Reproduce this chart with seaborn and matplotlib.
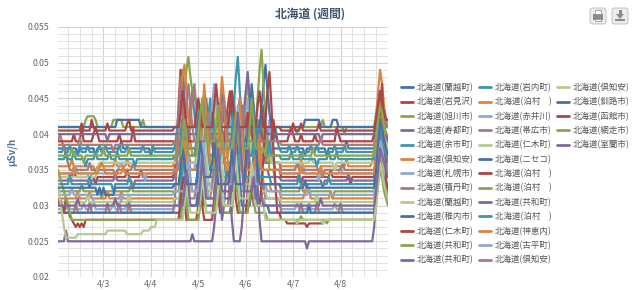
import numpy as np
import pandas as pd
import matplotlib
matplotlib.use("Agg")
import matplotlib.pyplot as plt
import matplotlib.dates as mdates
from matplotlib.lines import Line2D
from matplotlib.ticker import FixedLocator, MultipleLocator, FixedFormatter
from matplotlib.patches import FancyBboxPatch, Rectangle, Polygon
import seaborn as sns

# ---------------- data ----------------
title = "北海道 (週間)"
y_label = "μSv/h"
start_time = "2013-04-02 01:00"
n_points = 168
seg_lengths = [59, 54, 46, 9]          # hourly points per segment of each code string
x_tick_dates = ["2013-04-03", "2013-04-04", "2013-04-05", "2013-04-06", "2013-04-07", "2013-04-08"]
x_tick_labels = ["4/3", "4/4", "4/5", "4/6", "4/7", "4/8"]
y_ticks = [0.02, 0.025, 0.03, 0.035, 0.04, 0.045, 0.05, 0.055]
y_tick_labels = ["0.02", "0.025", "0.03", "0.035", "0.04", "0.045", "0.05", "0.055"]

names = [
    "北海道(蘭越町)", "北海道(岩見沢)", "北海道(旭川市)", "北海道(寿都町)", "北海道(余市町)",
    "北海道(倶知安)", "北海道(札幌市)", "北海道(積丹町)", "北海道(蘭越町)", "北海道(稚内市)",
    "北海道(仁木町)", "北海道(共和町)", "北海道(共和町)",
    "北海道(岩内町)", "北海道(泊村　)", "北海道(赤井川)", "北海道(帯広市)", "北海道(仁木町)",
    "北海道(ニセコ)", "北海道(泊村　)", "北海道(泊村　)", "北海道(共和町)", "北海道(泊村　)",
    "北海道(神恵内)", "北海道(古平町)", "北海道(倶知安)",
    "北海道(倶知安)", "北海道(釧路市)", "北海道(函館市)", "北海道(網走市)", "北海道(室蘭市)",
]
color_cycle = ["#4572A7", "#AA4643", "#89A54E", "#80699B", "#3D96AE",
               "#DB843D", "#92A8CD", "#A47D7C", "#B5CA92"]

# values in 1/1000 μSv/h, run-length coded ("v*n" = v repeated n hours), segments split by "|"
s00 = "38*10 37 38*8 37 38*12 39 38*14 37 38*11|38*3 40 42 40 38*6 39 41 43 41 39*4 40 42 40 38*8 40 43 45 42 39 38*8 41 44 40 38*7|38*12 37 38*10 37 38*9 39 38*12|38*2 40 43 44 42 41 40 39"
s01 = "34*8 35 34*10 33 34*15 35 34*6 35 34*16|35 38 44 49 46 42 39 37 36*4 35*5 38 41 39 36*6 37 40 44 46 43 40 38 36*5 35*4 37 39 41 38 36*5 35*3|34*10 33 34*14 35 34*9 33 34*10|34*2 37 41 44 42 40 39 38"
s02 = "41*14 42 42.5*4 42 41*8 42*5 41*10 42 41*15|41*4 43 46 49 50.8 48 46 45 44.5 44 43 41 40*3 42 44 42 40*5 41 43 41 40*6 42 45 47 44 41 40*4 42 40*3 41*6|41*8 40 41*12 42 41*10 40 41*13|41*2 43 45 46 44 43 42 42"
s03 = "33.5*6 34.5 33.5*9 32.5 33.5*12 34.5 33.5*8 32.5 33.5*20|34 37 42 46 49 45 40 37 35*4 36 38 36 34*6 37 41 44 41 37 35*5 36 39 42 39 36 34*5 38 41 38 35*4 34*6|33.5*9 34.5 33.5*11 32.5 33.5*12 34.5 33.5*11|33.5*2 36 40 43 41 39 38 37"
s04 = "37.5*3 38.5 37.5*2 38.5 37.5*4 38.5 37.5*3 38.5 37.5*5 38.5 37.5*2 38.5 37.5*6 38.5 37.5*3 38.5 37.5*7 38.5 37.5*4 38.5 37.5*10|38 40 43 41 39*3 41 44 46 43 40 38*4 40 42 45 42 39 38*5 40 43 41 39 38*4 41 44 42 39 38*3 40 42 40 38*6 39 41 39 38|37.5*4 38.5 37.5*3 38.5 37.5*6 38.5 37.5*2 38.5 37.5*8 38.5 37.5*4 38.5 37.5*13|37.5*2 40 42 45 43 42 41 41"
s05 = "35.5*7 36.5 35.5*11 34.5 35.5*9 36.5 35.5*5 36.5 35.5*23|36 38 41 45 48 49.7 46 42 39 37*3 39 42 40 37*5 38 41 43 40 37*4 39 42 45 42 39 37*6 40 43 40 37*4 38 40 38 36*5|35.5*10 36.5 35.5*8 34.5 35.5*13 36.5 35.5*12|36 38 42 46 49 47 44 42 41"
s06 = "34.5*9 35.5 34.5*6 33.5 34.5*14 35.5 36 35.5 34.5*10 33.5 34.5*14|35*3 37 39 37 35*5 37 40 38 36*3 38 41 44 47 44 40 37*4 39 42 40 37*5 40 43 45 41 38*4 40 37*3 39 42 39 36*4|34.5*11 35.5 34.5*7 33.5 34.5*10 35.5 34.5*15|34.5*2 37 40 42 41 39 38 38"
s07 = "39 40 39 38 37 36 35*10 36 35*12 34 35*8 36 35*20|35*3 37 39 38 36 38 42 45 47 44 40 38*3 40 37*4 39 41 38 36*6 38 41 43 40 37*5 39 42 39 36*5 38 36*6|35*8 36 35*12 34 35*9 36 35*14|35*2 37 39 41 40 38 37 37"
s08 = "34*20 35 36*38|36*2 38 41 44 41 38 36*5 38 40 38 36*3 39 42 44 42 39 37*4 39 41 39 37*6 40 43 40 37*5 39 37*4 36*5|36*15 37 36*11 35 36*18|36*3 38 41 42 40 39 38"
s09 = "41*30 42*12 41*17|41*3 43 45 43 41*6 42 44 42 41*8 43 46 44 42 41*6 42 44 42 41*8 44 47 49.7 46 43 41*5|41*12 42*8 41*6 42*3 41*17|41*2 42 44 45 44 43 42 42"
s10 = "39*8 40 39*3 41 39*5 40 41 40 39*10 40 39*6 41 39*20|39*4 41 43 41 39*6 40 42 40 39*10 42 44 46 43 41 39*6 41 43 40 39*10 42 40 39*2|39*4 40 41 40 39*3 40 39*6 40 39*10 41 40 39*16|39 40 42 44 46 44 42 41 41"
s11 = "32*12 33 32*9 31 32*14 33 32*21|32*3 35 38 36 33*6 35 38 36 33*5 36 39 37 34*6 36 40 38 35*8 37 41 45 49 51.8 47 42 38 35*3 33*3|32*10 33 32*15 31 32*19|32*2 34 37 40 39 37 36 35"
s12 = "40*25 39 40*33|40*4 42 44 41 40*8 42 45 42 40*6 41 43 41 40*8 43 46 48.7 45 42 40*4 41 43 41 40*7|40*20 39 40*25|40*2 42 44 45 43 42 41 41"
s13 = "36.5*4 37.5 36.5*3 37.5 36.5*5 35.5 36.5*4 37.5 36.5*6 37.5 36.5*3 37.5 36.5*8 35.5 36.5*19|37*3 39 42 40 37*5 39 41 39 37*4 40 43 41 38*8 40 44 48 50.8 46 42 39 37*4 39 41 38 37*5 39 37*5|36.5*5 37.5 36.5*4 37.5 36.5*7 35.5 36.5*5 37.5 36.5*3 37.5 36.5*17|36.5*2 39 42 44 43 41 40 39"
s14 = "31*10 32 31*5 32 31*8 32 31*6 32 31*26|31*4 33 36 34 32*6 34 37 35 32*5 35 39 44 48 45 40 36 33*5 35 38 35 33*6 36 39 36 33*4 32*5|31*12 32 33 32 31*10 32 31*20|31*2 34 39 44 42 39 37 36"
s15 = "29.5*5 30.5 29.5*7 30.5 29.5*4 31 29.5*9 30.5 29.5*6 30.5 29.5*23|30*3 33 36 33 30*6 33 37 41 38 34 31*4 34 38 35 32*5 35 39 42 38 34 31*5 34 37 33 31*4 30*8|29.5*8 30.5 29.5*5 30.5 29.5*12 30.5 29.5*18|29.5*2 32 36 39 38 36 35 34"
s16 = "29*9 30.5 29*6 30.5 29*8 30.5 29*5 30.5 29*4 30.5 29*22|30 35 41 48 44 38 33 31*4 33 36 33 31*5 33 35 32 30*6 34 38 35 32*5 34 37 34 31*6 33 31*8|29*10 30.5 29*7 30.5 29*11 30.5 29*15|29*2 31 34 37 36 34 33 32"
s17 = "30.5*15 31.5 30.5*20 31.5 30.5*22|31*5 34 37 35 32*5 34 38 41 38 34 32*4 35 39 36 33*6 36 40 43 39 35 32*5 34 37 34 32*3 31*7|30.5*18 31.5 30.5*27|30.5*2 33 36 38 37 35 34 34"
s18 = "30*3 29*56|29*4 31 34 32 30*5 32 35 33 30*6 33 36 34 31*5 33 37 40 37 33 30*5 32 35 32 30*6 29*6|29*14 30 29*31|29*2 31 34 36 35 33 32 31"
s19 = "30 31 30 29 31 30 28.5 28 27.5 27 27.5 27 27.5 27 28*45|28*3 31 34 31 28*6 30 33 30 28*5 31 35 32 29*6 31 34 31 29*5 32 36 34 30*4 33 37 42 46 48.7 44 38 33 29*2|28*3 27.5*10 27 27.5*8 28*24|28*2 32 38 44 47 40 34 31"
s20 = "35 34 33 32 31 30 29 28*52|28*4 30 33 31 28*6 30 34 32 29*5 32 36 33 29*6 32 35 32 29*5 31 34 31 29*6 28*7|28*10 28.5 28*12 27.5 28*22|28*2 30 33 35 34 32 31 30"
s21 = "25*4 26.5 25*54|25*9 26 25*10 27 30 33 31 28 30 34 35 32 28 25*4 27 31 35 39 36 32 35 38 33 28 25*10|25*13 24 25*32|25 27 31 36 40 42 41 40 39"
s22 = "33*6 34 33*9 34 33*11 32 33*7 34 33*22|33*4 35 37 35 33*5 35 38 42 46 42 38 35*5 37 40 37 34*6 36 39 36 34*5 37 40 37 34*6 33*5|33*9 34 33*14 34 33*21|33*2 35 38 41 40 38 37 36"
s23 = "34.5*8 35.5 34.5*12 35.5 36 35.5 34.5*9 35.5 34.5*25|35*4 37 39 37 35*6 38 42 47 43 39 36*5 38 40 37 35*5 38 42 45 41 37 35*5 37 39 36 35*10|34.5*10 35.5 34.5*9 35.5 34.5*25|34.5*2 37 41 45 43 40 38 37"
s24 = "31.5*7 32.5 31.5*13 32.5 31.5*10 30.5 31.5*26|32*6 34 37 34 32*4 35 39 36 33*5 35 38 35 33*6 36 40 44 40 36 33*5 35 33*6 32*7|31.5*14 32.5 31.5*31|31.5*2 34 37 39 38 36 35 35"
s25 = "38.5*11 39.5 38.5*16 37.5 38.5*30|39*5 41 44 47 44 41 39*6 41 43 40 39*5 42 45 42 39*7 41 44 41 39*6 40 39*10|38.5*20 39.5 38.5*25|38.5*2 40 42 44 43 42 41 41"
s26 = "33 31 29 27 25.5*6 26*15 26.5*10 26*8 26.5*4 27*3 28*9|28*5 30 33 31 29*5 31 34 32 29*6 32 35 33 30*5 33 37 34 31*5 33 36 33 30*5 28*8|28*8 27.5 28*12 27.5 28*24|28*2 30 33 36 35 33 32 31"
s27 = "32.5*20 31.5 32.5 31.5 32.5 31.5*5 32.5*30|33*3 35 38 36 33*6 36 39 37 34*4 36 39 36 33*6 35 38 35 33*5 36 40 43 47 44 39 35 33*11|32.5*12 33.5 32.5*33|32.5*2 35 39 42 41 39 38 37"
s28 = "40.5*12 41.5 40.5*4 42 41 40.5*6 41.5 40.5*9 41.5 42 40.5*22|41*3 43 46 44 41*5 43 45 43 41*6 44 47 44 41*5 43 46 43 41*6 43 41*4 44 46 43 41*9|40.5*6 41.5 40.5*3 41.5 40.5*8 41.5 40.5*26|40.5*2 42 44 46 44 43 42 42"
s29 = "37*7 38 37*5 36 37*9 38 37*12 38 37*22|37*4 39 42 40 37*5 40 43 45 42 39*5 41 44 41 38*6 40 43 40 38*5 41 45 42 38*5 37*8|37*16 38 37*29|37*2 39 42 44 43 41 40 40"
s30 = "30*10 31 30*18 31 30*29|30*5 32 35 33 30*5 33 37 34 31*5 34 38 35 32*6 35 39 43 40 36 32*5 34 31*4 30*9|30*20 31 30*25|30*2 32 35 38 37 36 35 34"

series_codes = [s00, s01, s02, s03, s04, s05, s06, s07, s08, s09, s10, s11, s12, s13, s14, s15,
                s16, s17, s18, s19, s20, s21, s22, s23, s24, s25, s26, s27, s28, s29, s30]


def expand(code):
    out = []
    for seg, n in zip(code.split("|"), seg_lengths):
        vals = []
        for tok in seg.split():
            if "*" in tok:
                v, k = tok.split("*")
                vals += [float(v)] * int(k)
            else:
                vals.append(float(tok))
        vals = (vals + [vals[-1]] * n)[:n]
        out += vals
    return np.array(out) / 1000.0


times = pd.date_range(start_time, periods=n_points, freq="h")
frames = []
for i, code in enumerate(series_codes):
    frames.append(pd.DataFrame({"time": times, "value": expand(code), "sid": i}))
df = pd.concat(frames, ignore_index=True)

# ---------------- figure ----------------
sns.set_theme(style="white")
plt.rcParams["font.family"] = ["Noto Sans CJK JP", "DejaVu Sans"]

W, H = 640, 290
fig = plt.figure(figsize=(W / 100, H / 100), dpi=100)
fig.patch.set_facecolor("white")
ax = fig.add_axes([58 / W, 1 - 277 / H, 330 / W, 250 / H])

palette = {i: color_cycle[i % len(color_cycle)] for i in range(len(names))}
sns.lineplot(data=df, x="time", y="value", hue="sid", palette=palette,
             hue_order=list(range(len(names))), estimator=None, errorbar=None,
             sort=False, legend=False, linewidth=1.6, ax=ax)
for ln in ax.lines:
    ln.set_solid_joinstyle("round")
    ln.set_solid_capstyle("round")

ax.set_xlim(times[0], times[-1])
ax.set_ylim(y_ticks[0], y_ticks[-1])

ax.yaxis.set_major_locator(FixedLocator(y_ticks))
ax.yaxis.set_major_formatter(FixedFormatter(y_tick_labels))
ax.yaxis.set_minor_locator(MultipleLocator(0.001))
ax.set_xticks(pd.to_datetime(x_tick_dates))
ax.set_xticklabels(x_tick_labels)
ax.xaxis.set_minor_locator(mdates.HourLocator(byhour=[0, 6, 12, 18]))

ax.grid(which="major", axis="both", color="#d4d4d4", linewidth=0.8)
ax.grid(which="minor", axis="both", color="#e2e2e2", linewidth=0.7)
ax.set_axisbelow(True)
for sp in ax.spines.values():
    sp.set_visible(False)
ax.tick_params(axis="both", which="both", length=0, labelsize=6.3, colors="#666666")
ax.tick_params(axis="y", pad=6)
ax.tick_params(axis="x", pad=1.5)
ax.set_xlabel("")
ax.set_ylabel("")

fig.text(12 / W, 1 - 152 / H, y_label, rotation=90, ha="center", va="center",
         fontsize=7, fontweight="bold", color="#4d759e")
fig.text(310 / W, 1 - 14 / H, title, ha="center", va="center",
         fontsize=8.5, fontweight="bold", color="#3E576F")

# legend: three columns of 13 rows (last column partially filled)
handles = [Line2D([], [], color=palette[i], lw=2) for i in range(len(names))]
labels = list(names)
pad = 3 * 13 - len(names)
handles += [Line2D([], [], color="none")] * pad
labels += [""] * pad
leg = fig.legend(handles, labels, ncol=3, loc="upper left",
                 bbox_to_anchor=(401 / W, 1 - 83 / H), frameon=False, fontsize=6.1,
                 handlelength=1.4, handletextpad=0.5, columnspacing=0.6,
                 labelspacing=0.62, borderpad=0, borderaxespad=0)
for t in leg.get_texts():
    t.set_color("#555555")

# export buttons (top right)
tr = fig.dpi_scale_trans
def px(x, y):
    return (x / 100, (H - y) / 100)
for x0 in (590, 612):
    b = FancyBboxPatch(px(x0, 24), 0.16, 0.16, boxstyle="round,pad=0,rounding_size=0.025",
                       transform=tr, facecolor="#ececec", edgecolor="#b8b8b8", linewidth=0.6)
    fig.add_artist(b)
fig.add_artist(Rectangle(px(593, 20), 0.10, 0.06, transform=tr, facecolor="#8a8a8a", edgecolor="none"))
fig.add_artist(Rectangle(px(595, 14), 0.06, 0.04, transform=tr, facecolor="white", edgecolor="#8a8a8a", linewidth=0.5))
fig.add_artist(Rectangle(px(595, 21), 0.06, 0.02, transform=tr, facecolor="white", edgecolor="#8a8a8a", linewidth=0.5))
fig.add_artist(Polygon([px(616, 14), px(624, 14), px(620, 19)], closed=True, transform=tr, facecolor="#8a8a8a", edgecolor="none"))
fig.add_artist(Rectangle(px(618.5, 14), 0.03, 0.04, transform=tr, facecolor="#8a8a8a", edgecolor="none"))
fig.add_artist(Rectangle(px(615, 21), 0.10, 0.015, transform=tr, facecolor="#8a8a8a", edgecolor="none"))

fig.savefig("out.png", dpi=100)
